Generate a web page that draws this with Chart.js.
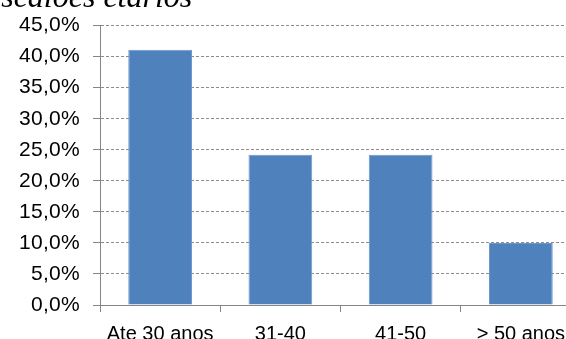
<!DOCTYPE html>
<html>
<head>
<meta charset="utf-8">
<script src="https://cdn.jsdelivr.net/npm/chart.js@4/dist/chart.umd.min.js"></script>
<style>
  html, body { margin: 0; padding: 0; background: #fff; overflow: hidden; }
  #wrap { position: relative; width: 566px; height: 339px; overflow: hidden; }
  #c { position: absolute; left: 0; top: 0; }
  #titulo {
    position: absolute; left: -13px; top: -20px; white-space: nowrap;
    font: italic 32px/32px "Liberation Serif", "Times New Roman", serif; color: #000;
  }
</style>
</head>
<body>
<div id="wrap">
  <canvas id="c" width="600" height="339"></canvas>
  <div id="titulo">escalões etários</div>
</div>
<script>
// faixas etárias e percentagens
var categorias = ['Ate 30 anos', '31-40', '41-50', '> 50 anos'];
var percentagens = [41.1, 24.2, 24.2, 10.0];
var eixoMax = 45, eixoPasso = 5;

var cinza = '#868686';

// as etiquetas do eixo y no original são um pouco mais largas
var espacamento = {
  id: 'espacamento',
  beforeDraw: function(chart) {
    var s = chart.scales.y;
    if (s._espacado) return;
    var orig = s.drawLabels;
    s.drawLabels = function(area) {
      chart.ctx.letterSpacing = '0.3px';
      orig.call(this, area);
      chart.ctx.letterSpacing = '0px';
    };
    s._espacado = true;
  }
};

var chart = new Chart(document.getElementById('c'), {
  type: 'bar',
  data: {
    labels: categorias,
    datasets: [{
      data: percentagens,
      backgroundColor: '#4f81bd',
      borderColor: '#6d97cb',
      borderWidth: 1,
      categoryPercentage: 1,
      barPercentage: 0.53
    }]
  },
  plugins: [espacamento],
  options: {
    responsive: false,
    animation: false,
    layout: { padding: { top: 25, right: 19, left: 0, bottom: 0 } },
    plugins: { legend: { display: false }, tooltip: { enabled: false } },
    scales: {
      x: {
        offset: true,
        grid: { drawOnChartArea: false, drawTicks: true, tickLength: 7, color: cinza },
        border: { color: cinza, width: 1 },
        ticks: { color: '#000', font: { family: 'Liberation Sans, Arial', size: 20 }, padding: 10, maxRotation: 0, autoSkip: false },
        afterFit: function(s) { s.height = 34; }
      },
      y: {
        min: 0, max: eixoMax,
        grid: { color: '#8c8c8c', tickColor: cinza, tickLength: 7, tickBorderDash: [], lineWidth: 1 },
        border: { color: cinza, width: 1, dash: [3, 2] },
        ticks: {
          stepSize: eixoPasso,
          color: '#000',
          font: { family: 'Liberation Sans, Arial', size: 21 },
          padding: 13,
          callback: function(v) { return v.toFixed(1).replace('.', ',') + '%'; }
        },
        afterFit: function(s) { s.width = 100; }
      }
    }
  }
});
</script>
</body>
</html>
